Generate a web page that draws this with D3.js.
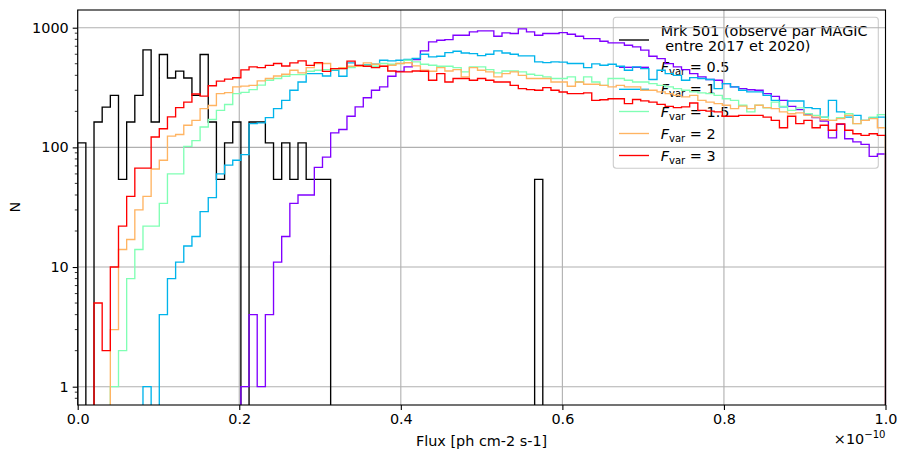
<!DOCTYPE html>
<html><head><meta charset="utf-8">
<script src="https://cdn.jsdelivr.net/npm/d3@7"></script>
<style>
body{margin:0;background:#fff}
text{font-family:"DejaVu Sans",sans-serif;fill:#000}
</style>
</head><body>
<svg id="c" width="899" height="450"></svg>
<script>
// ---- data (bin counts, 99 equal bins between 0 and 1e-10) ----
const nBins = 99;
const xTickValues = [0.0, 0.2, 0.4, 0.6, 0.8, 1.0];
const yTickValues = [1, 10, 100, 1000];
const xLabel = "Flux [ph cm-2 s-1]";
const yLabel = "N";
const offsetText = "−10";

const mrk501 = [109,0,163,217,272,54,163,272,652,163,597,380,434,380,272,597,163,54,109,163,
  0,163,163,109,54,109,54,109,54,54,54,
  0,0,0,0,0,0,0,0,0,0,0,0,0,0,0,0,0,0,0,0,0,0,0,0,0,54];

const fvar05 = [0,0,0,0,0,0,0,0,0,0,0,0,0,0,0,0,0,0,0,0,
  1,4,1,4,11,18,34,40,40,68,83,132,141,182,218,260,300,320,393,432,
  470,542,640,761,786,796,865,865,923,941,941,849,905,894,977,923,865,894,894,911,
  882,849,811,811,770,747,747,714,692,649,577,552,501,470,447,413,388,369,364,341,
  320,310,303,300,281,267,247,220,207,189,177,166,120,156,118,111,106,84,88];

const fvar1 = [0,0,0,0,0,0,0,0,1,0,4,8,11,15,18,29,38,60,71,78,
  87,158,160,177,211,247,300,352,413,413,395,441,393,508,485,491,496,535,528,535,
  542,553,600,570,577,620,636,615,608,585,600,640,615,600,582,582,518,511,518,515,
  502,502,464,498,486,495,476,441,470,455,369,441,413,400,364,383,376,369,310,341,
  320,300,291,291,272,247,218,244,244,215,211,179,247,198,179,185,168,177,179];

const fvar15 = [0,0,0,0,1,2,8,14,22,22,34,60,60,102,114,148,171,204,228,281,
  288,304,331,364,376,393,406,406,433,441,447,447,455,464,476,486,476,502,495,502,
  535,518,495,486,476,476,464,427,470,470,447,419,435,435,427,408,400,388,376,376,
  388,352,388,352,330,376,376,364,352,352,341,330,320,310,300,291,285,281,272,255,
  247,225,198,225,214,239,220,204,214,191,185,179,168,177,191,158,168,179,188];

const fvar2 = [0,0,0,0,3,14,17,30,39,66,78,124,128,153,168,211,224,281,287,320,
  325,330,359,376,395,408,441,419,464,502,502,455,464,476,476,508,495,476,486,502,
  510,480,441,433,464,435,447,388,464,441,427,388,413,427,400,376,376,376,352,352,
  324,352,337,337,330,320,330,320,320,300,300,291,281,272,264,272,247,239,232,225,
  211,221,211,225,215,211,198,191,194,185,179,170,168,174,185,158,168,174,146];

const fvar3 = [0,0,5,2,10,22,39,67,67,122,143,180,215,239,279,268,327,358,372,382,
  444,470,464,485,502,479,508,528,485,511,432,455,455,525,485,476,464,476,435,427,
  427,435,433,364,413,352,376,376,364,376,364,352,352,330,310,304,300,316,300,290,
  281,281,285,247,250,255,255,232,251,245,239,229,220,215,218,235,204,201,198,182,
  182,185,185,185,179,168,146,182,158,168,146,153,139,157,139,130,126,130,126];

const seriesLabels = ["Mrk 501 (observé par MAGIC", " entre 2017 et 2020)"];
const fvarLabels = ["0.5", "1", "1.5", "2", "3"];
const fvarColors = ["#8000ff", "#00b4eb", "#80ffb4", "#ffb462", "#ff0000"];

// ---- layout ----
const svg = d3.select("#c");
const L = 77.7, R = 885.5, T = 10, B = 405;
const FS = 14.4;
const x = d3.scaleLinear().domain([0, 1]).range([L, R]);
const y = d3.scaleLog().domain([0.703, 1406]).range([B, T]);
const base = B + 30;

// legend (drawn underneath the plotted lines, as in the reference)
const lg = svg.append("g");
lg.append("rect").attr("x", 613.3).attr("y", 17.3).attr("width", 265).attr("height", 151).attr("rx", 3)
  .attr("fill", "#fff").attr("stroke", "#cccccc").attr("stroke-width", 1.1);
lg.append("line").attr("x1", 619).attr("x2", 649).attr("y1", 40).attr("y2", 40)
  .attr("stroke", "#000").attr("stroke-width", 1.35);
lg.append("text").attr("x", 660.7).attr("y", 36).attr("font-size", FS).text(seriesLabels[0]);
lg.append("text").attr("x", 660.7).attr("y", 50.5).attr("font-size", FS)
  .attr("xml:space", "preserve").style("white-space", "pre").text(seriesLabels[1]);
const rowY = [67.3, 89.3, 111.5, 133.5, 155.5];
fvarLabels.forEach((lab, i) => {
  const yy = rowY[i];
  lg.append("line").attr("x1", 619).attr("x2", 649).attr("y1", yy).attr("y2", yy)
    .attr("stroke", fvarColors[i]).attr("stroke-width", 1.35);
  const t = lg.append("text").attr("x", 660.7).attr("y", yy + 5).attr("font-size", FS);
  t.append("tspan").attr("font-style", "italic").text("F");
  t.append("tspan").attr("font-size", FS * 0.7).attr("dy", 3).text("var");
  t.append("tspan").attr("dy", -3).attr("xml:space", "preserve").style("white-space", "pre").text(" = " + lab);
});

// grid
const grid = svg.append("g");
xTickValues.forEach(v => grid.append("line").attr("x1", x(v)).attr("x2", x(v)).attr("y1", T).attr("y2", B)
  .attr("stroke", "#b0b0b0").attr("stroke-width", 1.1));
yTickValues.forEach(v => grid.append("line").attr("x1", L).attr("x2", R).attr("y1", y(v)).attr("y2", y(v))
  .attr("stroke", "#b0b0b0").attr("stroke-width", 1.1));

svg.append("defs").append("clipPath").attr("id", "clip")
  .append("rect").attr("x", L).attr("y", T).attr("width", R - L + 1).attr("height", B - T);

const line = d3.line();
function stepPts(vals) {
  const pts = [[x(0), base]];
  vals.forEach((v, i) => {
    const yy = v > 0 ? y(v) : base;
    pts.push([x(i / nBins), yy], [x((i + 1) / nBins), yy]);
  });
  pts.push([x(vals.length / nBins), base]);
  return pts;
}
const plot = svg.append("g").attr("clip-path", "url(#clip)");
const allSeries = [[mrk501, "#000000"], [fvar05, fvarColors[0]], [fvar1, fvarColors[1]],
  [fvar15, fvarColors[2]], [fvar2, fvarColors[3]], [fvar3, fvarColors[4]]];
allSeries.forEach(([vals, col]) => {
  plot.append("path").attr("d", line(stepPts(vals))).attr("fill", "none")
    .attr("stroke", col).attr("stroke-width", 1.35).attr("stroke-linejoin", "miter");
});

// axes
const xAxis = d3.axisBottom(x).tickValues(xTickValues).tickFormat(d3.format(".1f")).tickSize(5).tickPadding(4);
const gx = svg.append("g").attr("transform", `translate(0,${B})`).call(xAxis);
const yAxis = d3.axisLeft(y).tickValues(yTickValues).tickFormat(d3.format("d")).tickSize(5).tickPadding(4);
const gy = svg.append("g").attr("transform", `translate(${L},0)`).call(yAxis);
[gx, gy].forEach(g => {
  g.select(".domain").remove();
  g.selectAll("line").attr("stroke", "#000").attr("stroke-width", 1.1);
  g.selectAll("text").attr("font-size", FS).attr("font-family", "DejaVu Sans").attr("fill", "#000");
});
const minor = y.ticks().filter(v => yTickValues.indexOf(v) < 0 && v >= 0.703 && v <= 1406);
svg.append("g").selectAll("line").data(minor).join("line")
  .attr("x1", L - 2.9).attr("x2", L).attr("y1", d => y(d)).attr("y2", d => y(d))
  .attr("stroke", "#000").attr("stroke-width", 0.8);

// frame
svg.append("rect").attr("x", L).attr("y", T).attr("width", R - L).attr("height", B - T)
  .attr("fill", "none").attr("stroke", "#000").attr("stroke-width", 1.1);

// labels
svg.append("text").attr("x", (L + R) / 2).attr("y", 446).attr("text-anchor", "middle")
  .attr("font-size", FS).text(xLabel);
svg.append("text").attr("transform", "translate(20,207) rotate(-90)").attr("text-anchor", "middle")
  .attr("font-size", FS).text(yLabel);
const off = svg.append("text").attr("x", R).attr("y", 444).attr("text-anchor", "end").attr("font-size", FS);
off.append("tspan").text("×10");
off.append("tspan").attr("dy", -6).attr("font-size", FS * 0.7).text(offsetText);
</script>
</body></html>
